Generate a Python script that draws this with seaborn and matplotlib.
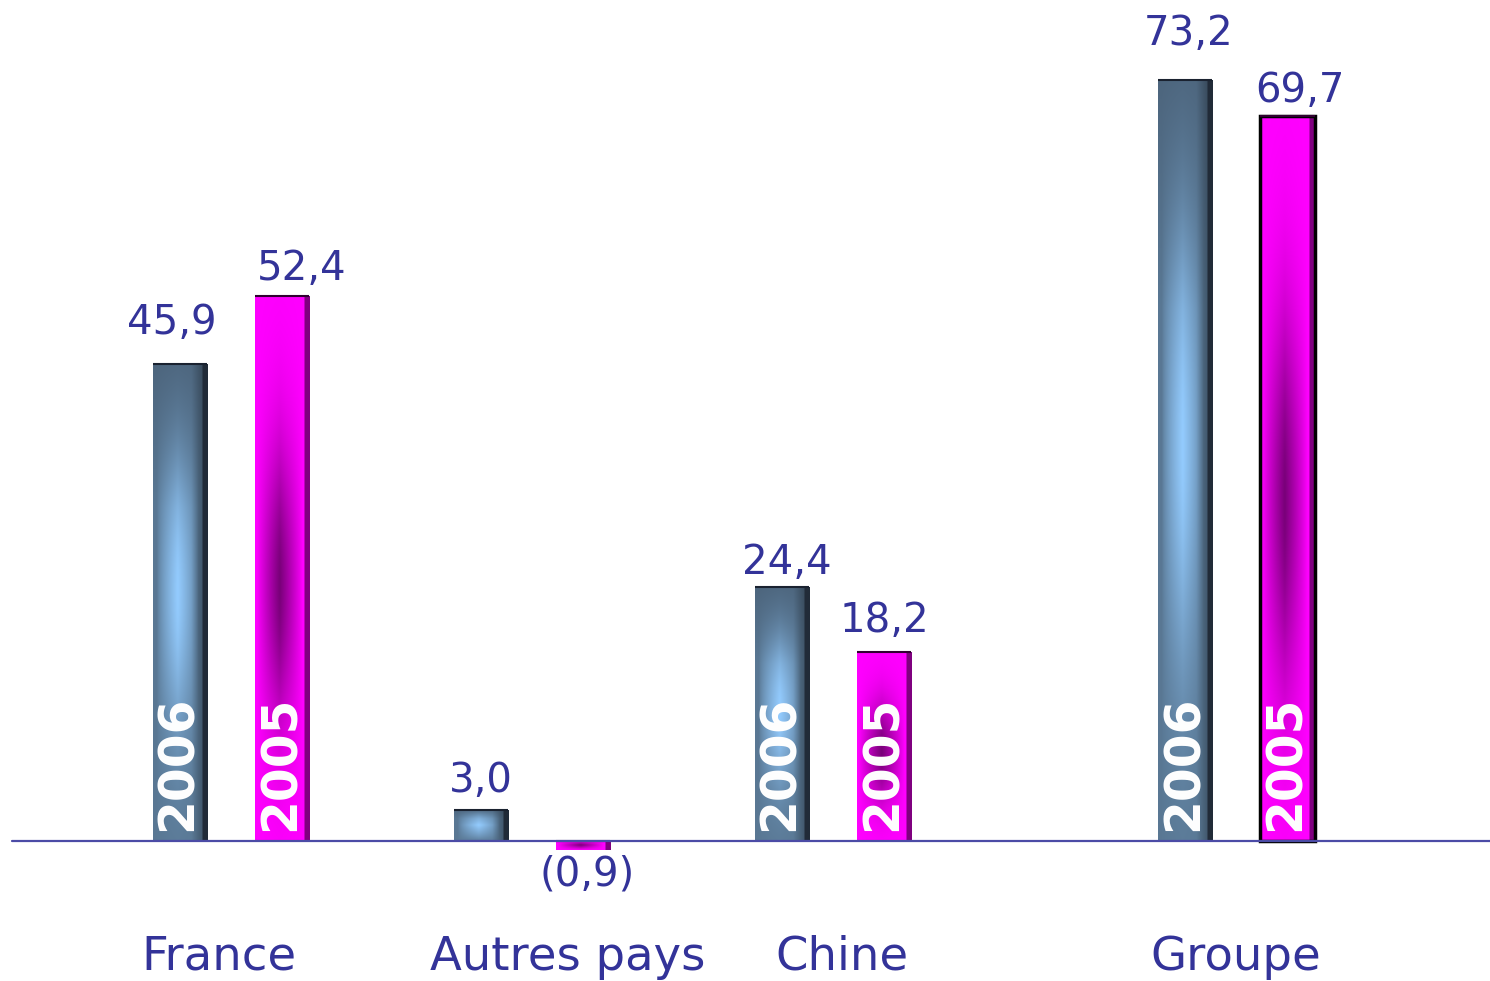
import numpy as np
import pandas as pd
import matplotlib
matplotlib.use("Agg")
import matplotlib.pyplot as plt
import seaborn as sns

# ---- data ----
categories = ["France", "Autres pays", "Chine", "Groupe"]
years = ["2006", "2005"]
values_2006 = [45.9, 3.0, 24.4, 73.2]
values_2005 = [52.4, -0.9, 18.2, 69.7]
year_tag_categories = ["France", "Chine", "Groupe"]

# ---- layout (positions, not data) ----
group_pos = [0.0, 1.0, 2.0, 3.34]
label_dx = [-0.04, 0.12, 0.03, 0.0]
PX = 10.4      # pixels per value unit
UX = 301.0     # pixels per position unit
# value-label offsets in pixels (dx, gap above bar top), order: 2006 bars then 2005 bars
vlab_dx = [-8, 0, 5, 3, 20, 4, 0, 13]
vlab_gap = [30, 18, 13, 35, 16, 0, 20, 14]

rows = []
for c, p, a, b in zip(categories, group_pos, values_2006, values_2005):
    rows.append({"cat": c, "pos": p, "year": "2006", "val": a})
    rows.append({"cat": c, "pos": p, "year": "2005", "val": b})
df = pd.DataFrame(rows)

sns.set_theme(style="white")
plt.rcParams["font.family"] = ["DejaVu Sans"]

fig = plt.figure(figsize=(14.9, 9.81), dpi=100)
ax = fig.add_axes([0, 0, 1, 1])

sns.barplot(data=df, x="pos", y="val", hue="year", hue_order=years,
            palette={"2006": "#5a7894", "2005": "#ff00ff"},
            native_scale=True, width=0.68, gap=0.47, dodge=True,
            legend=False, ax=ax, linewidth=0, saturation=1)

ax.set_xlim(-0.767, 4.183)
ax.set_ylim(-13.46, 80.87)
ax.axis("off")
ax.axhline(0, xmin=12 / 1490, xmax=1.0, color="#4b4ba6", lw=1.6, zorder=5)

txt_color = "#333399"


def grad_image(kind, h_units):
    n_u, n_v = 80, 240
    u = np.linspace(0, 1, n_u)[None, :]
    v = np.linspace(0, 1, n_v)[:, None]
    if kind == "2006":
        base = np.array([0.35, 0.47, 0.58])
        light = np.array([0.58, 0.80, 1.0])
        dark_top = np.array([0.29, 0.38, 0.47])
        hprof = np.clip(1 - np.abs(u - 0.45) / 0.38, 0, 1) ** 0.7
        if h_units < 6:
            vprof = np.clip(1 - np.abs(v - 0.5) / 0.5, 0, 1) ** 0.8
        else:
            vprof = np.exp(-((v - 0.52) / 0.3) ** 2)
        t = (hprof * vprof)[..., None]
        col = base + (light - base) * t
        topmix = 0.8 * np.clip((v - 0.7) / 0.3, 0, 1)[..., None] * (1 - t)
        col = col * (1 - topmix) + dark_top * topmix
        col = np.broadcast_to(col, (n_v, n_u, 3)).copy()
        rshade = np.clip((u[0] - 0.7) / 0.2, 0, 1)
        col = col * (1 - 0.25 * rshade[None, :, None])
        col[:, u[0] > 0.9, :] = np.array([0.13, 0.17, 0.22])
    else:
        base = np.array([1.0, 0.0, 1.0])
        dark = np.array([0.47, 0.0, 0.47])
        hprof = np.clip(1 - np.abs(u - 0.45) / 0.42, 0, 1) ** 0.9
        if h_units < 6:
            vprof = np.clip(1 - np.abs(v - 0.5) / 0.5, 0, 1)
        else:
            vprof = np.exp(-((v - 0.47) / 0.26) ** 2)
        t = (hprof * vprof)[..., None]
        col = base + (dark - base) * t
        col = np.broadcast_to(col, (n_v, n_u, 3)).copy()
        col[:, u[0] > 0.9, :] *= 0.5
    return np.clip(col, 0, 1)


patches = list(ax.patches)
for i, p in enumerate(patches):
    kind = years[i // len(categories)]
    cat = categories[i % len(categories)]
    x0 = p.get_x()
    w = p.get_width()
    y0 = p.get_y()
    h = p.get_height()
    ylo, yhi = min(y0, y0 + h), max(y0, y0 + h)
    img = grad_image(kind, abs(h))
    im = ax.imshow(img, extent=(x0, x0 + w, ylo, yhi), origin="lower",
                   aspect="auto", interpolation="bilinear", zorder=3)
    im.set_clip_path(p)
    ax.plot([x0, x0 + w], [yhi, yhi],
            color="#1a2230" if kind == "2006" else "#300030",
            lw=1.5, zorder=4, solid_capstyle="butt")
    if cat == "Groupe" and kind == "2005":
        p.set_edgecolor("black")
        p.set_linewidth(2.5)
        p.set_zorder(4)
        p.set_facecolor("none")

    val = h
    cx = x0 + w / 2 + vlab_dx[i] / UX
    if val >= 0:
        lab = f"{val:.1f}".replace(".", ",")
        ax.text(cx, val + vlab_gap[i] / PX, lab, ha="center", va="baseline",
                fontsize=29, color=txt_color, zorder=6)
    else:
        lab = "(" + f"{abs(val):.1f}".replace(".", ",") + ")"
        ax.text(cx, val - 0.4, lab, ha="center", va="top",
                fontsize=29, color=txt_color, zorder=6)

    if cat in year_tag_categories:
        ax.text(x0 + w * 0.47, 1.0, kind, rotation=90, ha="center", va="bottom",
                fontsize=35, fontweight="bold", color="white", zorder=6)

for c, p, dx in zip(categories, group_pos, label_dx):
    ax.text(p + dx, -12.4, c, ha="center", va="baseline",
            fontsize=33.5, color=txt_color)

fig.savefig("out.png", dpi=100, facecolor="white")
